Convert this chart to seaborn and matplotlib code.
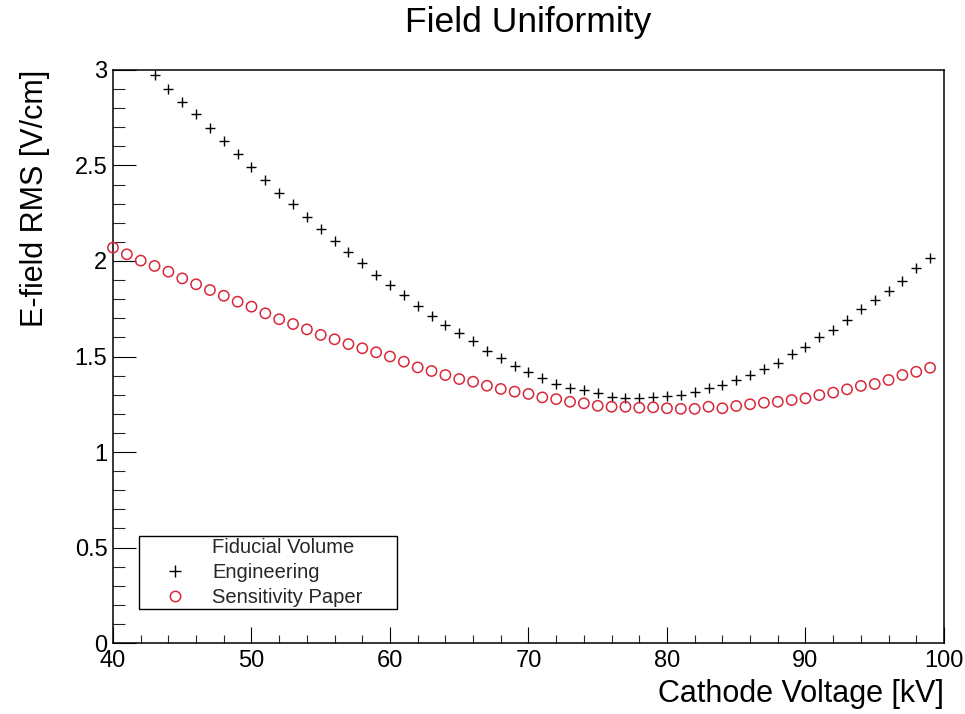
import numpy as np
import pandas as pd
import matplotlib
matplotlib.use("Agg")
import matplotlib.pyplot as plt
import seaborn as sns
from matplotlib.lines import Line2D
from matplotlib.ticker import MultipleLocator, FuncFormatter

# --- DATA ---
kv_engineering = list(range(43, 100))
rms_engineering = [
    2.974, 2.899, 2.831, 2.768, 2.695, 2.630, 2.560, 2.490, 2.424, 2.358,
    2.298, 2.232, 2.168, 2.106, 2.049, 1.991, 1.927, 1.874, 1.822, 1.764,
    1.712, 1.667, 1.621, 1.581, 1.530, 1.494, 1.452, 1.420, 1.389, 1.356,
    1.337, 1.325, 1.307, 1.290, 1.284, 1.281, 1.290, 1.293, 1.297, 1.313,
    1.334, 1.351, 1.377, 1.403, 1.435, 1.468, 1.513, 1.552, 1.600, 1.639,
    1.691, 1.747, 1.796, 1.843, 1.895, 1.962, 2.014,
]
kv_sensitivity = list(range(40, 100))
rms_sensitivity = [
    2.070, 2.035, 2.002, 1.974, 1.944, 1.909, 1.878, 1.848, 1.818, 1.787,
    1.761, 1.726, 1.695, 1.670, 1.642, 1.613, 1.590, 1.565, 1.543, 1.522,
    1.500, 1.473, 1.443, 1.424, 1.403, 1.382, 1.368, 1.347, 1.330, 1.316,
    1.304, 1.286, 1.277, 1.263, 1.255, 1.242, 1.237, 1.237, 1.232, 1.234,
    1.229, 1.226, 1.226, 1.237, 1.229, 1.241, 1.250, 1.258, 1.263, 1.272,
    1.281, 1.298, 1.311, 1.328, 1.346, 1.356, 1.377, 1.403, 1.420, 1.441,
]
legend_header = "Fiducial Volume"
series_labels = ["Engineering", "Sensitivity Paper"]

RED = "#d8283a"

sns.set_theme(style="white")
plt.rcParams["font.family"] = ["Liberation Sans", "DejaVu Sans"]

df_eng = pd.DataFrame({"kv": kv_engineering, "rms": rms_engineering})
df_sens = pd.DataFrame({"kv": kv_sensitivity, "rms": rms_sensitivity})

fig = plt.figure(figsize=(9.65, 7.14), dpi=100, facecolor="white")
ax = fig.add_axes([0.1171, 0.0994, 0.8611, 0.8026])

sns.scatterplot(data=df_eng, x="kv", y="rms", ax=ax, marker="+", color="black",
                s=60, linewidth=1.0, legend=False, zorder=3)
sns.scatterplot(data=df_sens, x="kv", y="rms", ax=ax, marker="o",
                facecolor="none", edgecolor=RED, s=55, linewidth=1.1,
                legend=False, zorder=3, clip_on=False)

ax.set_xlim(40, 100)
ax.set_ylim(0, 3)

# ROOT-like axes: inward ticks on bottom/left only
ax.xaxis.set_major_locator(MultipleLocator(10))
ax.xaxis.set_minor_locator(MultipleLocator(2))
ax.yaxis.set_major_locator(MultipleLocator(0.5))
ax.yaxis.set_minor_locator(MultipleLocator(0.1))
ax.yaxis.set_major_formatter(FuncFormatter(lambda v, p: f"{v:g}"))
ax.xaxis.set_major_formatter(FuncFormatter(lambda v, p: f"{v:g}"))
ax.tick_params(axis="x", which="major", direction="in", length=11.5, width=0.8,
               labelsize=17, pad=5, colors="black", top=False)
ax.tick_params(axis="x", which="minor", direction="in", length=5.8, width=0.8, top=False)
ax.tick_params(axis="y", which="major", direction="in", length=16.5, width=0.8,
               labelsize=17, pad=4, colors="black", right=False)
ax.tick_params(axis="y", which="minor", direction="in", length=8.6, width=0.8, right=False)
ax.tick_params(bottom=True, left=True, which="both")

for spine in ax.spines.values():
    spine.set_visible(True)
    spine.set_color("black")
    spine.set_linewidth(1.1)

ax.set_xlabel("Cathode Voltage [kV]", fontsize=22, loc="right", labelpad=5, color="black")
ax.set_ylabel("E-field RMS [V/cm]", fontsize=22, loc="top", labelpad=18, color="black")
fig.text(0.5477, 0.969, "Field Uniformity", fontsize=25.5, ha="center", va="center", color="black")

handles = [
    Line2D([], [], linestyle="none", marker=""),
    Line2D([], [], linestyle="none", marker="+", color="black", markersize=8, markeredgewidth=1.0),
    Line2D([], [], linestyle="none", marker="o", markerfacecolor="none",
           markeredgecolor=RED, markersize=7.5, markeredgewidth=1.1),
]
leg = ax.legend(handles, [legend_header] + series_labels, loc="lower left",
                bbox_to_anchor=(0.0313, 0.0593, 0.3105, 0.126), mode="expand",
                borderaxespad=0, fontsize=14.5, labelspacing=0.28, borderpad=0.12,
                handlelength=3.3, handletextpad=0.2, fancybox=False, framealpha=1)
leg.get_frame().set_edgecolor("black")
leg.get_frame().set_linewidth(1.0)

fig.savefig("out.png", dpi=100, facecolor="white")
